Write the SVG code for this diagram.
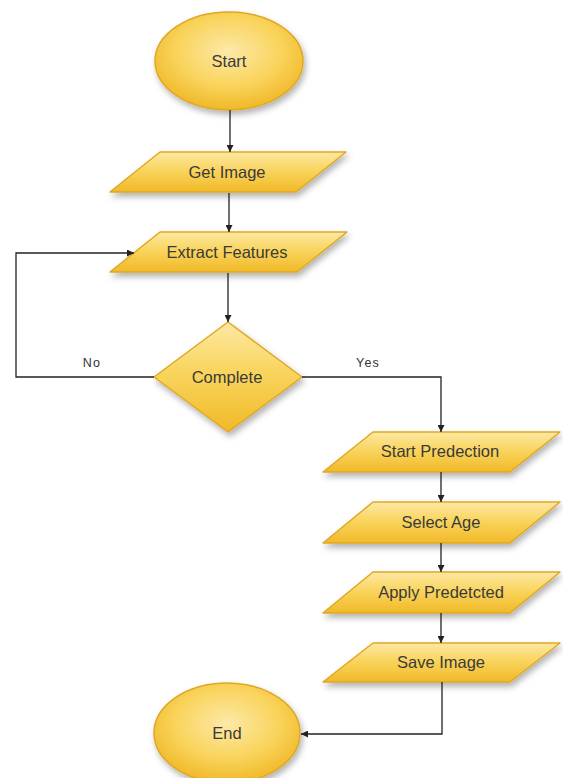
<svg xmlns="http://www.w3.org/2000/svg" width="563" height="778" viewBox="0 0 563 778">
<defs>
<linearGradient id="gold" x1="0" y1="0" x2="0" y2="1">
<stop offset="0" stop-color="#fde8a4"/>
<stop offset="0.45" stop-color="#f9d55e"/>
<stop offset="1" stop-color="#f1b928"/>
</linearGradient>
<radialGradient id="goldE" cx="0.5" cy="0.4" r="0.6">
<stop offset="0" stop-color="#fde9a8"/>
<stop offset="0.6" stop-color="#f9d35a"/>
<stop offset="1" stop-color="#f0b828"/>
</radialGradient>
<filter id="sh" x="-20%" y="-20%" width="140%" height="150%">
<feDropShadow dx="2" dy="4" stdDeviation="3" flood-color="#000" flood-opacity="0.3"/>
</filter>
<marker id="arr" viewBox="0 0 10 10" refX="10" refY="5" markerWidth="7" markerHeight="7" orient="auto" markerUnits="userSpaceOnUse">
<path d="M0,0 L10,5 L0,10 z" fill="#222"/>
</marker>
</defs>
<style>
.shape{fill:url(#gold);stroke:#dfa823;stroke-width:1.5;stroke-linejoin:round;filter:url(#sh)}
.ell{fill:url(#goldE);stroke:#dfa823;stroke-width:1.5;filter:url(#sh)}
.lbl{font-family:"Liberation Sans",Arial,sans-serif;font-size:16.5px;fill:#3a3a3a;text-anchor:middle;dominant-baseline:central}
.edge{fill:none;stroke:#222;stroke-width:1.3;marker-end:url(#arr)}
.el{font-family:"Liberation Sans",Arial,sans-serif;font-size:12.5px;fill:#333;text-anchor:middle;letter-spacing:1.2px}
</style>
<rect width="563" height="778" fill="#fff"/>
<g id="start">
<ellipse class="ell" cx="229" cy="61" rx="74" ry="49"/>
<text class="lbl" x="229" y="61">Start</text>
</g>
<g id="get-image">
<path class="shape" d="M160,152 L346,152 L296,192 L110,192 Z"/>
<text class="lbl" x="227" y="172">Get Image</text>
</g>
<g id="extract-features">
<path class="shape" d="M160,232 L347,232 L297,272 L110,272 Z"/>
<text class="lbl" x="227" y="252">Extract Features</text>
</g>
<g id="complete">
<path class="shape" d="M228,322 L302,377 L228,432 L154,377 Z"/>
<text class="lbl" x="227" y="377">Complete</text>
</g>
<g id="start-predection">
<path class="shape" d="M373,432 L560,432 L510,472 L323,472 Z"/>
<text class="lbl" x="440" y="451">Start Predection</text>
</g>
<g id="select-age">
<path class="shape" d="M373,502 L560,502 L510,543 L323,543 Z"/>
<text class="lbl" x="441" y="522">Select Age</text>
</g>
<g id="apply-predetcted">
<path class="shape" d="M373,572 L560,572 L510,613 L323,613 Z"/>
<text class="lbl" x="441" y="592">Apply Predetcted</text>
</g>
<g id="save-image">
<path class="shape" d="M373,643 L560,643 L510,682 L323,682 Z"/>
<text class="lbl" x="441" y="662">Save Image</text>
</g>
<g id="end">
<ellipse class="ell" cx="227" cy="733" rx="73" ry="50"/>
<text class="lbl" x="227" y="733">End</text>
</g>
<g id="connectors">
<path class="edge" d="M230,110 L230,152"/>
<path class="edge" d="M229,193 L229,232"/>
<path class="edge" d="M228,273 L228,322"/>
<path class="edge" d="M154,377 L16,377 L16,253 L134,253"/>
<path class="edge" d="M302,377 L441,377 L441,432"/>
<path class="edge" d="M441,472 L441,502"/>
<path class="edge" d="M441,543 L441,572"/>
<path class="edge" d="M441,613 L441,643"/>
<path class="edge" d="M442,682 L442,734 L301,734"/>
<text class="el" x="92" y="367">No</text>
<text class="el" x="368" y="367">Yes</text>
</g>
</svg>
